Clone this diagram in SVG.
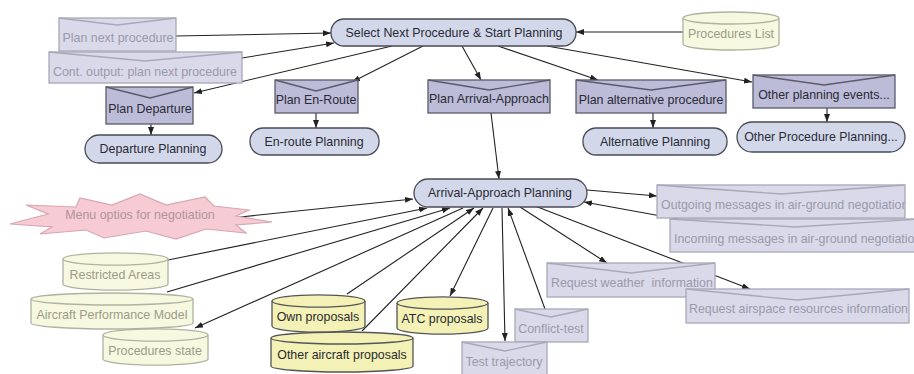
<svg xmlns="http://www.w3.org/2000/svg" width="914" height="374" viewBox="0 0 914 374">
  <style>
    text { font-family: "Liberation Sans", Arial, sans-serif; font-size: 12.4px; text-anchor: middle; }
    .stad { fill: #d2d8ea; stroke: #4a4a55; stroke-width: 1.3; }
    .stad-t { fill: #2a2a35; }
    .env { fill: #bcbcd8; stroke: #5a5a6a; stroke-width: 1.3; }
    .env-v { fill: none; stroke: #5a5a6a; stroke-width: 1.3; }
    .env-t { fill: #2a2a35; }
    .lenv { fill: #d9d9ea; stroke: #a8a8b8; stroke-width: 1.3; }
    .lenv-v { fill: none; stroke: #a8a8b8; stroke-width: 1.3; }
    .lenv-t { fill: #9a9aa8; }
    .cyl { fill: #f6f8df; stroke: #b0b2a0; stroke-width: 1.3; }
    .cyl-t { fill: #9a9c8a; }
    .dcyl { fill: #f3f1b5; stroke: #555; stroke-width: 1.3; }
    .dcyl-t { fill: #2a2a30; }
    .burst { fill: #f6cbd4; stroke: #d7a6b0; stroke-width: 1.2; }
    .burst-t { fill: #b0959a; }
    .edge { fill: none; stroke: #222; stroke-width: 1.1; }
  </style>
  <defs>
    <marker id="arrow" viewBox="0 0 8 6" refX="8" refY="3" markerWidth="8" markerHeight="6" markerUnits="userSpaceOnUse" orient="auto">
      <path d="M0,0 L8,3 L0,6 z" fill="#222"/>
    </marker>
    <clipPath id="clip-out"><rect x="657" y="185" width="248" height="33"/></clipPath>
    <clipPath id="clip-in"><rect x="670" y="219" width="250" height="33"/></clipPath>
    <clipPath id="clip-wx"><rect x="547" y="263" width="168" height="34"/></clipPath>
    <clipPath id="clip-as"><rect x="686" y="289" width="223" height="34"/></clipPath>
  </defs>

  <!-- connectors -->
  <g id="connectors">
    <path class="edge" d="M176,36 L331,33" marker-end="url(#arrow)"/>
    <path class="edge" d="M242,58 L334,43" marker-end="url(#arrow)"/>
    <path class="edge" d="M392,46 L194,93" marker-end="url(#arrow)"/>
    <path class="edge" d="M423,46 L352,82" marker-end="url(#arrow)"/>
    <path class="edge" d="M462,46 L481,80" marker-end="url(#arrow)"/>
    <path class="edge" d="M498,46 L598,80" marker-end="url(#arrow)"/>
    <path class="edge" d="M547,46 L752,82" marker-end="url(#arrow)"/>
    <path class="edge" d="M683,32 L576,32" marker-end="url(#arrow)"/>
    <path class="edge" d="M151,124 L151,135" marker-end="url(#arrow)"/>
    <path class="edge" d="M316,113 L316,128" marker-end="url(#arrow)"/>
    <path class="edge" d="M653,113 L653,128" marker-end="url(#arrow)"/>
    <path class="edge" d="M827,108 L827,122" marker-end="url(#arrow)"/>
    <path class="edge" d="M491,113 L499,179" marker-end="url(#arrow)"/>
    <path class="edge" d="M240,217 L413,199" marker-end="url(#arrow)"/>
    <path class="edge" d="M168,260 L427,208" marker-end="url(#arrow)"/>
    <path class="edge" d="M167,292 L450,208" marker-end="url(#arrow)"/>
    <path class="edge" d="M463,208 L195,328" marker-end="url(#arrow)"/>
    <path class="edge" d="M347,294 L474,208" marker-end="url(#arrow)"/>
    <path class="edge" d="M362,331 L483,208" marker-end="url(#arrow)"/>
    <path class="edge" d="M493,208 L450,296" marker-end="url(#arrow)"/>
    <path class="edge" d="M502,208 L505,341" marker-end="url(#arrow)"/>
    <path class="edge" d="M545,309 L508,208" marker-end="url(#arrow)"/>
    <path class="edge" d="M520,207 L607,263" marker-end="url(#arrow)"/>
    <path class="edge" d="M535,206 L750,289" marker-end="url(#arrow)"/>
    <path class="edge" d="M587,190 L657,196" marker-end="url(#arrow)"/>
    <path class="edge" d="M683,220 L584,202" marker-end="url(#arrow)"/>
  </g>

  <!-- top-level planner -->
  <g id="select-next">
    <rect class="stad" x="331" y="19" width="245" height="27" rx="13"/>
    <text class="stad-t" x="454" y="37">Select Next Procedure &amp; Start Planning</text>
  </g>
  <g id="procedures-list">
    <path class="cyl" d="M683,18 A48,6 0 0 1 779,18 V44 A48,6 0 0 1 683,44 Z"/>
    <path class="cyl" d="M683,18 A48,6 0 0 0 779,18"/>
    <text class="cyl-t" x="731" y="38">Procedures List</text>
  </g>
  <g id="plan-next">
    <rect class="lenv" x="59" y="18" width="117" height="33"/>
    <path class="lenv-v" d="M59,18 L117,25 L176,18"/>
    <text class="lenv-t" x="118" y="42">Plan next procedure</text>
  </g>
  <g id="cont-output">
    <rect class="lenv" x="49" y="52" width="193" height="31"/>
    <path class="lenv-v" d="M49,52 L145,61 L242,52"/>
    <text class="lenv-t" x="145" y="76">Cont. output: plan next procedure</text>
  </g>

  <!-- procedure events -->
  <g id="plan-departure">
    <rect class="env" x="106" y="87" width="87" height="37"/>
    <path class="env-v" d="M106,87 L150,98 L193,87"/>
    <text class="env-t" x="150" y="113">Plan Departure</text>
  </g>
  <g id="plan-enroute">
    <rect class="env" x="275" y="80" width="83" height="33"/>
    <path class="env-v" d="M275,80 L316,91 L358,80"/>
    <text class="env-t" x="316" y="104">Plan En-Route</text>
  </g>
  <g id="plan-arrival">
    <rect class="env" x="428" y="80" width="122" height="33"/>
    <path class="env-v" d="M428,80 L489,90 L550,80"/>
    <text class="env-t" x="489" y="103">Plan Arrival-Approach</text>
  </g>
  <g id="plan-alternative">
    <rect class="env" x="576" y="80" width="150" height="33"/>
    <path class="env-v" d="M576,80 L651,90 L726,80"/>
    <text class="env-t" x="651" y="104">Plan alternative procedure</text>
  </g>
  <g id="other-events">
    <rect class="env" x="753" y="75" width="142" height="33"/>
    <path class="env-v" d="M753,75 L824,85 L895,75"/>
    <text class="env-t" x="824" y="99">Other planning events...</text>
  </g>

  <!-- planning states -->
  <g id="departure-planning">
    <rect class="stad" x="85" y="135" width="137" height="28" rx="14"/>
    <text class="stad-t" x="153" y="153">Departure Planning</text>
  </g>
  <g id="enroute-planning">
    <rect class="stad" x="250" y="128" width="129" height="27" rx="13"/>
    <text class="stad-t" x="314" y="146">En-route Planning</text>
  </g>
  <g id="alternative-planning">
    <rect class="stad" x="583" y="128" width="144" height="27" rx="13"/>
    <text class="stad-t" x="655" y="146">Alternative Planning</text>
  </g>
  <g id="other-procedure-planning">
    <rect class="stad" x="737" y="122" width="168" height="30" rx="15"/>
    <text class="stad-t" x="821" y="141">Other Procedure Planning...</text>
  </g>
  <g id="arrival-approach-planning">
    <rect class="stad" x="414" y="179" width="173" height="28" rx="14"/>
    <text class="stad-t" x="500" y="197">Arrival-Approach Planning</text>
  </g>

  <!-- negotiation menu -->
  <g id="menu-options">
    <polygon class="burst" points="10,224 48,214 26,205 76,207 80,198 112,205 140,194 166,205 205,197 214,206 249,210 236,216 272,222 236,225 246,233 206,229 176,239 146,231 104,238 86,230 40,234 52,227"/>
    <text class="burst-t" x="140" y="219">Menu optios for negotiation</text>
  </g>

  <!-- data stores -->
  <g id="restricted-areas">
    <path class="cyl" d="M63,259 A52,6 0 0 1 168,259 V284 A52,6 0 0 1 63,284 Z"/>
    <path class="cyl" d="M63,259 A52,6 0 0 0 168,259"/>
    <text class="cyl-t" x="115" y="279">Restricted Areas</text>
  </g>
  <g id="aircraft-performance">
    <path class="cyl" d="M31,299 A81,6 0 0 1 193,299 V323 A81,6 0 0 1 31,323 Z"/>
    <path class="cyl" d="M31,299 A81,6 0 0 0 193,299"/>
    <text class="cyl-t" x="112" y="319">Aircraft Performance Model</text>
  </g>
  <g id="procedures-state">
    <path class="cyl" d="M103,335 A52,6 0 0 1 208,335 V359 A52,6 0 0 1 103,359 Z"/>
    <path class="cyl" d="M103,335 A52,6 0 0 0 208,335"/>
    <text class="cyl-t" x="155" y="355">Procedures state</text>
  </g>
  <g id="own-proposals">
    <path class="dcyl" d="M272,301 A46,6 0 0 1 365,301 V326 A46,6 0 0 1 272,326 Z"/>
    <path class="dcyl" d="M272,301 A46,6 0 0 0 365,301"/>
    <text class="dcyl-t" x="318" y="321">Own proposals</text>
  </g>
  <g id="other-aircraft-proposals">
    <path class="dcyl" d="M271,338 A71,6 0 0 1 413,338 V366 A71,6 0 0 1 271,366 Z"/>
    <path class="dcyl" d="M271,338 A71,6 0 0 0 413,338"/>
    <text class="dcyl-t" x="342" y="359">Other aircraft proposals</text>
  </g>
  <g id="atc-proposals">
    <path class="dcyl" d="M397,303 A45,6 0 0 1 488,303 V328 A45,6 0 0 1 397,328 Z"/>
    <path class="dcyl" d="M397,303 A45,6 0 0 0 488,303"/>
    <text class="dcyl-t" x="442" y="323">ATC proposals</text>
  </g>

  <!-- negotiation messages and requests -->
  <g id="outgoing-messages">
    <rect class="lenv" x="657" y="185" width="248" height="33"/>
    <path class="lenv-v" d="M657,185 L781,194 L905,185"/>
    <text class="lenv-t" x="661" y="209" style="text-anchor:start" clip-path="url(#clip-out)">Outgoing messages in air-ground negotiation</text>
  </g>
  <g id="incoming-messages">
    <rect class="lenv" x="670" y="219" width="250" height="33"/>
    <path class="lenv-v" d="M670,219 L795,227 L920,219"/>
    <text class="lenv-t" x="674" y="243" style="text-anchor:start" clip-path="url(#clip-in)">Incoming messages in air-ground negotiation</text>
  </g>
  <g id="request-weather">
    <rect class="lenv" x="547" y="263" width="168" height="34"/>
    <path class="lenv-v" d="M547,263 L631,273 L715,263"/>
    <text class="lenv-t" x="551" y="287" style="text-anchor:start" xml:space="preserve" clip-path="url(#clip-wx)">Request weather  information</text>
  </g>
  <g id="request-airspace">
    <rect class="lenv" x="686" y="289" width="223" height="34"/>
    <path class="lenv-v" d="M686,289 L797,300 L909,289"/>
    <text class="lenv-t" x="689" y="313" style="text-anchor:start" clip-path="url(#clip-as)">Request airspace resources information</text>
  </g>
  <g id="conflict-test">
    <rect class="lenv" x="515" y="309" width="73" height="33"/>
    <path class="lenv-v" d="M515,309 L551,317 L588,309"/>
    <text class="lenv-t" x="551" y="333">Conflict-test</text>
  </g>
  <g id="test-trajectory">
    <rect class="lenv" x="462" y="342" width="85" height="36"/>
    <path class="lenv-v" d="M462,342 L505,351 L547,342"/>
    <text class="lenv-t" x="504" y="366">Test trajectory</text>
  </g>
</svg>
